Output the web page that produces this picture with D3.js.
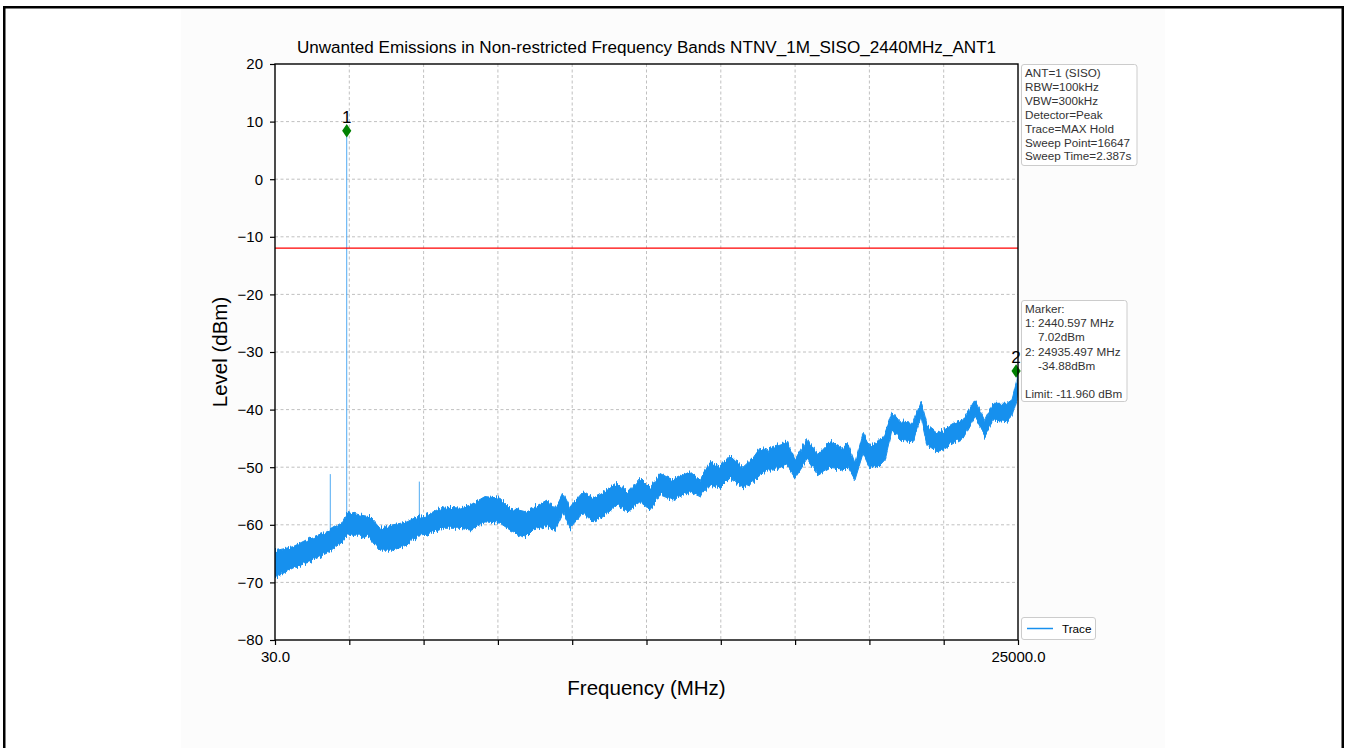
<!DOCTYPE html>
<html><head><meta charset="utf-8">
<script src="https://cdn.jsdelivr.net/npm/d3@7"></script>
<style>
html,body{margin:0;padding:0;background:#fff;}
svg{display:block;font-family:"Liberation Sans",Arial,sans-serif;}
text{white-space:pre;}
</style></head>
<body>
<svg id="chart" width="1349" height="748"></svg>
<script>
const titleText = "Unwanted Emissions in Non-restricted Frequency Bands NTNV_1M_SISO_2440MHz_ANT1";
const xLabel = "Frequency (MHz)";
const yLabel = "Level (dBm)";
const xDomain = [30, 25000];
const yDomain = [-80, 20];
const xTickValues = [30, 2527, 5024, 7521, 10018, 12515, 15012, 17509, 20006, 22503, 25000];
const xTickLabels = ["30.0", "", "", "", "", "", "", "", "", "", "25000.0"];
const yTickValues = [20, 10, 0, -10, -20, -30, -40, -50, -60, -70, -80];

const traceFreq = [30,635,1206,1778,2315,2483,2887,3223,3559,3996,4466,4802,5138,5676,6247,6583,7087,7592,7928,8432,8701,9171,9440,9709,9944,10381,10717,11053,11524,11860,12297,12633,12969,13406,13977,14313,14649,14985,15321,15758,16094,16329,16565,16766,17237,17506,17909,18279,18682,19085,19287,19522,19791,20026,20295,20530,20766,21034,21471,21740,21942,22278,22480,22816,23152,23555,23891,24160,24630,24798,24966,25000];
const traceHigh = [-64.5,-63.8,-62.3,-61.2,-59.5,-57.7,-58.3,-58.6,-60.6,-60.0,-59.5,-58.6,-58.3,-56.9,-57.1,-56.6,-55.1,-55.4,-57.1,-57.7,-57.1,-55.7,-57.4,-54.5,-56.9,-54.3,-55.4,-54.5,-52.8,-54.3,-51.9,-53.6,-51.1,-52.2,-50.8,-52.2,-49.2,-50.0,-47.9,-50.0,-48.4,-46.7,-47.0,-46.4,-45.6,-48.7,-45.0,-47.9,-45.6,-46.7,-45.9,-49.3,-44.1,-46.4,-45.6,-44.1,-40.4,-42.1,-42.4,-38.6,-42.7,-44.1,-43.5,-42.4,-41.8,-38.3,-41.8,-38.9,-38.9,-38.3,-34.9,-33.3];
const traceLow = [-69.2,-67.5,-66.4,-64.9,-62.9,-61.8,-61.8,-62.3,-64.4,-64.4,-63.5,-62.0,-61.8,-60.6,-60.6,-60.9,-59.5,-59.7,-60.9,-62.3,-60.9,-60.3,-60.9,-57.9,-60.6,-57.9,-59.5,-58.6,-56.6,-57.7,-56.0,-57.4,-54.8,-55.7,-54.3,-55.1,-53.1,-53.6,-51.9,-53.6,-52.5,-51.4,-50.5,-50.5,-49.6,-51.9,-48.7,-51.4,-50.2,-50.5,-50.0,-52.2,-47.6,-50.2,-50.0,-48.7,-43.5,-45.3,-45.6,-41.2,-46.1,-47.3,-47.0,-45.9,-45.0,-41.2,-44.7,-41.8,-42.1,-41.2,-38.3,-36.5];

const spikeFreq = [1888, 2440.597, 4880];
const spikeTop = [-51.2, 8.4, -52.5];
const spikeBase = [-62, -61, -60];

const markerFreq = [2440.597, 24935.497];
const markerLevel = [8.4, -33.3];
const markerLabel = ["1", "2"];

const limitLevel = -11.96;

const infoLines = ["ANT=1 (SISO)", "RBW=100kHz", "VBW=300kHz", "Detector=Peak", "Trace=MAX Hold", "Sweep Point=16647", "Sweep Time=2.387s"];
const markerLines = ["Marker:", "1: 2440.597 MHz", "    7.02dBm", "2: 24935.497 MHz", "    -34.88dBm", "", "Limit: -11.960 dBm"];
const legendLabel = "Trace";

const traceColor = "#1890ee";

const svg = d3.select("#chart");
const W = 1349, H = 748;
const L = 275, R = 1018, T = 64, B = 640;

// texture filter: vertical-only jitter to give the max-hold band a noisy edge
const defs = svg.append("defs");
const flt = defs.append("filter").attr("id", "hair").attr("filterUnits", "userSpaceOnUse")
  .attr("x", L).attr("y", T).attr("width", R - L + 2).attr("height", B - T);
flt.append("feTurbulence").attr("type", "fractalNoise").attr("baseFrequency", "0.85 0.04")
  .attr("numOctaves", 2).attr("seed", 4).attr("result", "n");
flt.append("feColorMatrix").attr("in", "n").attr("type", "matrix")
  .attr("values", "0 0 0 0 0.5  0 1 0 0 0  0 0 1 0 0  0 0 0 0 1").attr("result", "m");
flt.append("feDisplacementMap").attr("in", "SourceGraphic").attr("in2", "m").attr("scale", 9)
  .attr("xChannelSelector", "R").attr("yChannelSelector", "G");
const clip = defs.append("clipPath").attr("id", "plotclip");
clip.append("rect").attr("x", L).attr("y", T).attr("width", R - L).attr("height", B - T);

// page background + figure area + frame
svg.append("rect").attr("x",0).attr("y",0).attr("width",W).attr("height",H).attr("fill","#fff");
svg.append("rect").attr("x",181).attr("y",8).attr("width",984).attr("height",H).attr("fill","#fcfcfc");
svg.append("rect").attr("x",4.25).attr("y",7.25).attr("width",1338.5).attr("height",760)
  .attr("fill","none").attr("stroke","#000").attr("stroke-width",2.5);
svg.append("rect").attr("x",L).attr("y",T).attr("width",R-L).attr("height",B-T).attr("fill","#fff");

const x = d3.scaleLinear().domain(xDomain).range([L, R]);
const y = d3.scaleLinear().domain(yDomain).range([B, T]);

// grid
const grid = svg.append("g");
grid.selectAll("line.gx").data(xTickValues.slice(1, -1)).join("line")
  .attr("x1", d => x(d)).attr("x2", d => x(d)).attr("y1", T).attr("y2", B)
  .attr("stroke", "#b0b0b0").attr("stroke-width", 0.8).attr("stroke-dasharray", "3,2.5");
grid.selectAll("line.gy").data(yTickValues.slice(1, -1)).join("line")
  .attr("x1", L).attr("x2", R).attr("y1", d => y(d)).attr("y2", d => y(d))
  .attr("stroke", "#b0b0b0").attr("stroke-width", 0.8).attr("stroke-dasharray", "3,2.5");

// trace band
const pts = traceFreq.map((f, i) => ({f, hi: traceHigh[i], lo: traceLow[i]}));
const area = d3.area().x(d => x(d.f)).y0(d => y(d.lo)).y1(d => y(d.hi));
svg.append("g").attr("clip-path", "url(#plotclip)")
  .append("path").datum(pts).attr("d", area).attr("fill", traceColor)
  .attr("stroke", traceColor).attr("stroke-width", 1).attr("stroke-linejoin","miter")
  .attr("filter", "url(#hair)");

// spikes
svg.selectAll("line.spike").data(spikeFreq).join("line")
  .attr("x1", d => x(d)).attr("x2", d => x(d))
  .attr("y1", (d, i) => y(spikeBase[i])).attr("y2", (d, i) => y(spikeTop[i]))
  .attr("stroke", traceColor).attr("stroke-width", 0.9).attr("opacity", 0.85);

// limit line
svg.append("line").attr("x1", L).attr("x2", R).attr("y1", y(limitLevel)).attr("y2", y(limitLevel))
  .attr("stroke", "#ff0000").attr("stroke-width", 1.1);

// markers
const mk = svg.append("g");
markerFreq.forEach((f, i) => {
  const cx = x(f), cy = y(markerLevel[i]);
  mk.append("path").attr("d", `M${cx},${cy-6.8} L${cx+4.6},${cy} L${cx},${cy+6.8} L${cx-4.6},${cy} Z`)
    .attr("fill", "#008000");
  mk.append("text").attr("x", cx).attr("y", cy - 8).attr("text-anchor", "middle")
    .attr("font-size", 17).attr("fill", "#000").text(markerLabel[i]);
});

// axes
const xAxis = d3.axisBottom(x).tickValues(xTickValues).tickFormat((d, i) => xTickLabels[i]).tickSize(5).tickSizeOuter(0);
const gx = svg.append("g").attr("transform", `translate(0,${B})`).call(xAxis);
gx.select(".domain").remove();
gx.selectAll(".tick line").attr("stroke", "#000").attr("stroke-width", 1.2);
gx.selectAll(".tick text").attr("font-size", 15).attr("fill", "#000").attr("dy", "0.95em")
  .attr("font-family", "Liberation Sans, Arial, sans-serif");

const yAxis = d3.axisLeft(y).tickValues(yTickValues).tickFormat(d => d < 0 ? "\u2212" + Math.abs(d) : String(d)).tickSize(5).tickSizeOuter(0);
const gy = svg.append("g").attr("transform", `translate(${L},0)`).call(yAxis);
gy.select(".domain").remove();
gy.selectAll(".tick line").attr("stroke", "#000").attr("stroke-width", 1.2);
gy.selectAll(".tick text").attr("font-size", 15).attr("fill", "#000").attr("x", -12)
  .attr("font-family", "Liberation Sans, Arial, sans-serif");

// frame
svg.append("rect").attr("x", L).attr("y", T).attr("width", R - L).attr("height", B - T)
  .attr("fill", "none").attr("stroke", "#000").attr("stroke-width", 1.4);

// titles
svg.append("text").attr("x", (L + R) / 2).attr("y", 53).attr("text-anchor", "middle")
  .attr("font-size", 17.1).attr("fill", "#000").text(titleText);
svg.append("text").attr("x", (L + R) / 2).attr("y", 695).attr("text-anchor", "middle")
  .attr("font-size", 20.5).attr("fill", "#000").text(xLabel);
svg.append("text").attr("transform", `translate(227,${(T + B) / 2}) rotate(-90)`).attr("text-anchor", "middle")
  .attr("font-size", 20.5).attr("fill", "#000").text(yLabel);

// info boxes
function textBox(x0, y0, w, h, lines, step) {
  const g = svg.append("g");
  g.append("rect").attr("x", x0).attr("y", y0).attr("width", w).attr("height", h).attr("rx", 2.5)
    .attr("fill", "#fff").attr("fill-opacity", 0.9).attr("stroke", "#cccccc").attr("stroke-width", 1);
  lines.forEach((t, i) => {
    g.append("text").attr("x", x0 + 3.5).attr("y", y0 + 12.5 + i * step)
      .attr("font-size", 11.7).attr("fill", "#333").text(t);
  });
}
textBox(1021.5, 64.5, 115.5, 101, infoLines, 13.9);
textBox(1021.5, 300.5, 105.5, 101, markerLines, 14.2);

// legend
const lg = svg.append("g");
lg.append("rect").attr("x", 1021.5).attr("y", 617.5).attr("width", 74).attr("height", 22).attr("rx", 2.5)
  .attr("fill", "#fff").attr("stroke", "#cccccc").attr("stroke-width", 1);
lg.append("line").attr("x1", 1027).attr("x2", 1053).attr("y1", 628.5).attr("y2", 628.5)
  .attr("stroke", traceColor).attr("stroke-width", 1.5);
lg.append("text").attr("x", 1062).attr("y", 632.5).attr("font-size", 11.7).attr("fill", "#000").text(legendLabel);
</script>
</body></html>
